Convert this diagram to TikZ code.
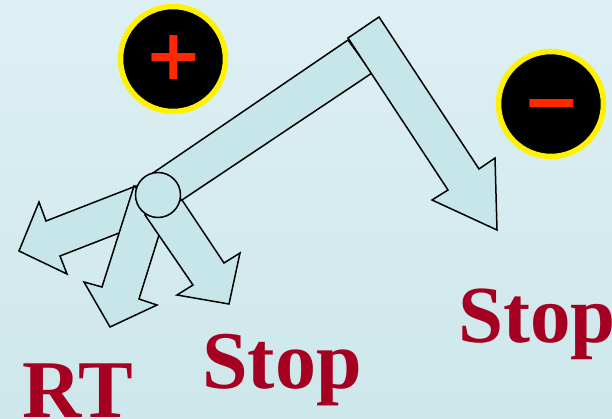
\documentclass[tikz,border=0pt]{standalone}
\usepackage{fontspec}
\setmainfont{Liberation Serif}
\newfontfamily\signfont{DejaVu Sans}
\usetikzlibrary{arrows.meta}
\definecolor{bgtop}{RGB}{222,240,244}
\definecolor{bgbot}{RGB}{205,231,234}
\definecolor{armfill}{RGB}{198,230,233}
\definecolor{wordred}{RGB}{165,0,33}
\definecolor{signred}{RGB}{255,40,0}
\begin{document}
\begin{tikzpicture}[x=1pt,y=-1pt,
  arm/.style={draw=black,fill=armfill,line width=1.5pt,line join=miter},
  sign/.style={circle,draw=yellow,fill=black,line width=5.5pt,minimum size=105pt,inner sep=0pt},
  signmark/.style={text=signred,font=\signfont\bfseries\fontsize{70}{70}\selectfont,inner sep=0pt},
  word/.style={text=wordred,font=\bfseries\fontsize{82}{82}\selectfont,anchor=base west,inner sep=0pt}]
  \useasboundingbox (0,0) rectangle (612,419);
  \clip (0,0) rectangle (612,419);
  \shade[shading angle=165,top color=bgtop,bottom color=bgbot] (0,0) rectangle (612,419);
  % long bar and its arrow
  \draw[arm] (150,175) -- (348,40) -- (372,73) -- (182,200) -- cycle;
  \draw[arm] (348,38) -- (379,17) -- (479,169) -- (495,158) -- (497,230) -- (432,200) -- (448,190) -- cycle;
  % three short arrows at the pivot
  \draw[arm] (136,186) -- (46,221) -- (39,202) -- (19,251) -- (67,274) -- (60,256) -- (150,221) -- cycle;
  \draw[arm] (134,186) -- (102,287) -- (84,282) -- (110,327) -- (157,305) -- (139,299) -- (159,235) -- (165,215) -- cycle;
  \draw[arm] (182,200) -- (224,263) -- (240,253) -- (229,304) -- (177,295) -- (193,285) -- (145,215) -- cycle;
  \node[arm,circle,minimum size=45pt,inner sep=0pt] (pivot) at (158,195) {};
  % plus and minus
  \node[sign] (plus) at (173,59) {};
  \node[sign] (minus) at (551,104) {};
  \node[signmark] (plusmark) at (173.5,57.5) {+};
  \node[signmark] (minusmark) at (552,112.5) {−};
  % labels
  \node[word] (rt) at (22,417) {RT};
  \node[word] (stopa) at (202,388) {Stop};
  \node[word,font=\bfseries\fontsize{81}{81}\selectfont] (stopb) at (458,342) {Stop};
\end{tikzpicture}
\end{document}
